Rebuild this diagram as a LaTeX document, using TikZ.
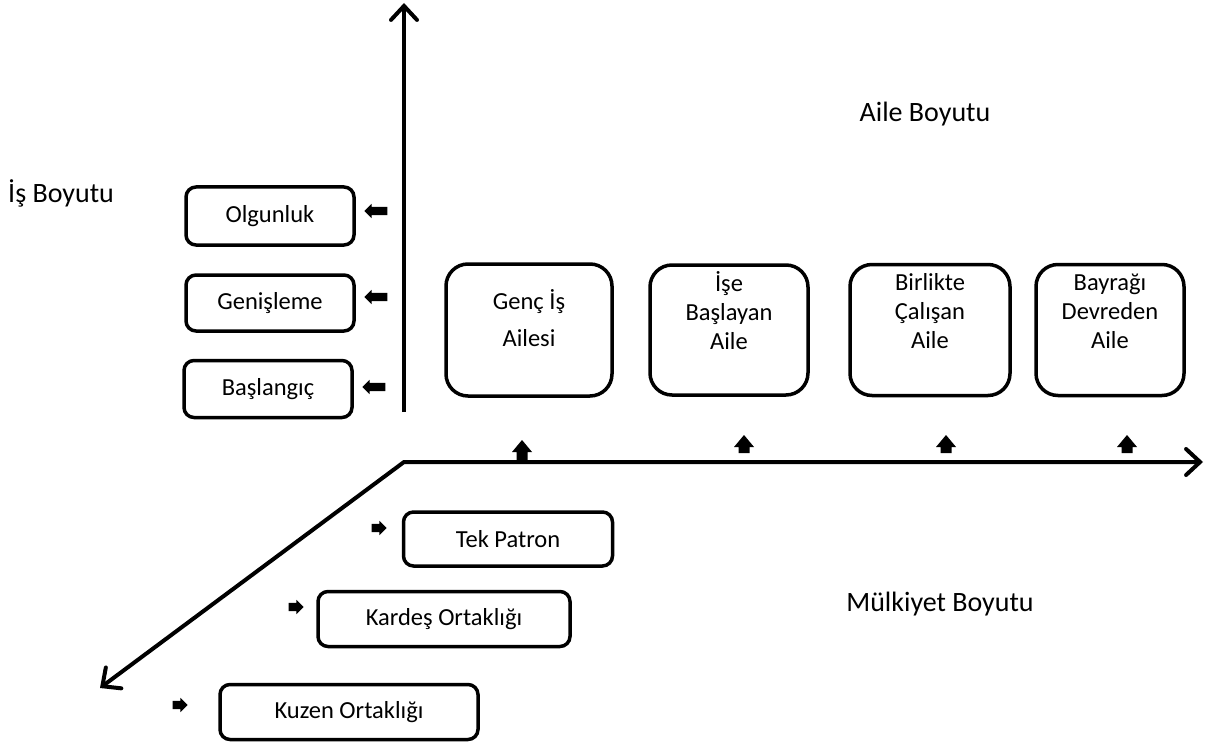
\documentclass[tikz,border=0pt]{standalone}
\usepackage{fontspec}
\setmainfont{Carlito}
\usetikzlibrary{arrows.meta,shapes.arrows}
\begin{document}
\begin{tikzpicture}[x=1pt,y=-1pt,
  axis/.style={line width=4pt,{Straight Barb[length=14pt,width=26pt,line cap=round]}-{Straight Barb[length=14pt,width=26pt,line cap=round]}, line join=miter},
  axisup/.style={line width=4pt,-{Straight Barb[length=14pt,width=26pt,line cap=round]}},
  sbox/.style={draw,line width=3.5pt,rounded corners=10pt,inner sep=0pt},
  fbox/.style={draw,line width=3.5pt,rounded corners=22pt,inner sep=0pt},
  btxt/.style={font=\fontsize{24.5}{29}\selectfont,align=center,inner sep=0pt},
  ltxt/.style={font=\fontsize{28}{32}\selectfont,inner sep=0pt},
  blk/.style={single arrow,fill=black,draw=none,inner xsep=0pt,inner ysep=0pt,text height=#1,text depth=0pt,single arrow head extend=3pt},
  blk/.default=8pt,
  uparr/.pic={\fill (0,0) -- (10,12) -- (5.5,12) -- (5.5,#1) -- (-5.5,#1) -- (-5.5,12) -- (-10,12) -- cycle;},
]
\useasboundingbox (0,0) rectangle (1219,749);
% axes
\coordinate (O) at (404,462);
\coordinate (Vbot) at (404,412);
\coordinate (Vtop) at (404,3);
\coordinate (Htip) at (1203,462);
\coordinate (Dtip) at (100,688);
\draw[axisup] (Vbot) -- (Vtop);
\draw[axis] (Dtip) -- (O) -- (Htip);

% axis labels
\node[ltxt,anchor=west] (isb) at (8,193) {İş Boyutu};
\node[ltxt] (aileb) at (925,114) {Aile Boyutu};
\node[ltxt] (mulkb) at (940,604) {Mülkiyet Boyutu};

% left boxes
\node[sbox,minimum width=168pt,minimum height=58pt] (olg) at (270,216) {};
\node[btxt] (olgt) at (olg.center) {Olgunluk};
\node[sbox,minimum width=168pt,minimum height=56pt] (gen) at (270,303) {};
\node[btxt] (gent) at (gen.center) {Genişleme};
\node[sbox,minimum width=168pt,minimum height=57pt] (bas) at (268,389) {};
\node[btxt] (bast) at (bas.center) {Başlangıç};

\node[blk=8pt,shape border rotate=180,minimum height=23pt] (a1) at (378,211) {};
\node[blk=8pt,shape border rotate=180,minimum height=23pt] (a2) at (378,297) {};
\node[blk=8pt,shape border rotate=180,minimum height=23pt] (a3) at (376,387) {};

% family boxes
\node[fbox,minimum width=166pt,minimum height=132pt] (f1) at (529,330) {};
\node[btxt,font=\fontsize{24.5}{37}\selectfont] (f1t) at (529,318) {Genç İş\\Ailesi};
\node[fbox,minimum width=158pt,minimum height=130pt] (f2) at (729,330) {};
\node[btxt] (f2t) at (729,311) {İşe\\Başlayan\\Aile};
\node[fbox,minimum width=160pt,minimum height=131pt] (f3) at (930,330) {};
\node[btxt] (f3t) at (930,311) {Birlikte\\Çalışan\\Aile};
\node[fbox,minimum width=148pt,minimum height=131pt] (f4) at (1110,330) {};
\node[btxt] (f4t) at (1110,311) {Bayrağı\\Devreden\\Aile};

\pic at (522,440) {uparr=20};
\pic at (744,435) {uparr=18};
\pic at (946,435) {uparr=18};
\pic at (1127,435) {uparr=18};

% ownership boxes
\node[sbox,minimum width=209pt,minimum height=54pt] (o1) at (508,539) {};
\node[btxt] (o1t) at (o1.center) {Tek Patron};
\node[sbox,minimum width=252pt,minimum height=55pt] (o2) at (444,619) {};
\node[btxt] (o2t) at (o2.center) {Kardeş Ortaklığı};
\node[sbox,minimum width=258pt,minimum height=55pt] (o3) at (349,712) {};
\node[btxt] (o3t) at (o3.center) {Kuzen Ortaklığı};

\node[blk=8pt,minimum height=15pt] (r1) at (377,528) {};
\node[blk=8pt,minimum height=15pt] (r2) at (294,607) {};
\node[blk=8pt,minimum height=15pt] (r3) at (178,705) {};
\end{tikzpicture}
\end{document}
